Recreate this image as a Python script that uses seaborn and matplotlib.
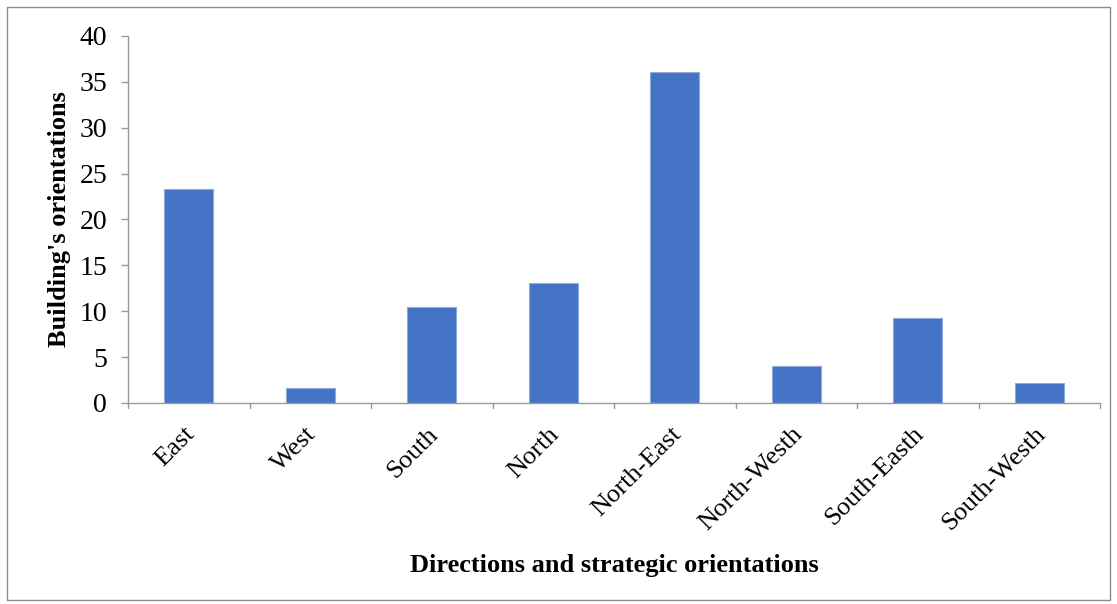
import matplotlib
matplotlib.use("Agg")
import matplotlib.pyplot as plt
import matplotlib.patches as mpatches
import matplotlib.transforms as mtransforms
import seaborn as sns
import pandas as pd

directions = ["East", "West", "South", "North", "North-East",
              "North-Westh", "South-Easth", "South-Westh"]
counts = [23.3, 1.6, 10.5, 13.1, 36.1, 4.0, 9.3, 2.2]
y_ticks = [0, 5, 10, 15, 20, 25, 30, 35, 40]

sns.set_theme(style="white")
plt.rcParams["font.family"] = ["Liberation Serif", "DejaVu Serif"]
plt.rcParams["text.color"] = "black"
plt.rcParams["axes.labelcolor"] = "black"
plt.rcParams["xtick.color"] = "black"
plt.rcParams["ytick.color"] = "black"

df = pd.DataFrame({"direction": directions, "count": counts})

fig = plt.figure(figsize=(11.17, 6.04), dpi=100)
ax = fig.add_axes([0.1146, 0.3328, 0.8702, 0.6076])

sns.barplot(data=df, x="direction", y="count", color="#4472C4",
            saturation=1, width=0.4, edgecolor="#8FAADC", linewidth=0.8, ax=ax)

ax.set_ylim(0, 40)
ax.set_xlim(-0.5, len(directions) - 0.5)
ax.set_yticks(y_ticks)
ax.set_yticklabels([str(v) for v in y_ticks], fontsize=20)

# category labels at bar centres, tick marks on category boundaries
ax.set_xticks(range(len(directions)))
ax.set_xticklabels(directions, fontsize=19, rotation=45, ha="right",
                   rotation_mode="anchor")
ax.tick_params(axis="x", length=0, pad=8, labelcolor="black")
shift = mtransforms.ScaledTranslation(-0.05, -0.09, fig.dpi_scale_trans)
for lbl in ax.get_xticklabels():
    lbl.set_transform(lbl.get_transform() + shift)
for b in range(len(directions) + 1):
    ax.plot([b - 0.5, b - 0.5], [0, -0.0136], transform=ax.get_xaxis_transform(),
            color="#9a9a9a", lw=1, clip_on=False)
ax.tick_params(axis="y", length=5, width=1, color="#9a9a9a", pad=10,
               direction="out", labelcolor="black")
ax.yaxis.set_ticks_position("left")

for side in ["top", "right"]:
    ax.spines[side].set_visible(False)
for side in ["left", "bottom"]:
    ax.spines[side].set_color("#9a9a9a")
    ax.spines[side].set_linewidth(1)

ax.set_xlabel("")
ax.set_ylabel("Building's orientations", fontsize=19, fontweight="bold",
              labelpad=6, color="black")
fig.text(0.55, 0.064, "Directions and strategic orientations", ha="center",
         va="center", fontsize=19, fontweight="bold", color="black")

fig.patches.append(mpatches.Rectangle((0.006, 0.006), 0.988, 0.982,
                                      transform=fig.transFigure, fill=False,
                                      edgecolor="#8c8c8c", lw=1))

fig.savefig("out.png", dpi=100, facecolor="white")
